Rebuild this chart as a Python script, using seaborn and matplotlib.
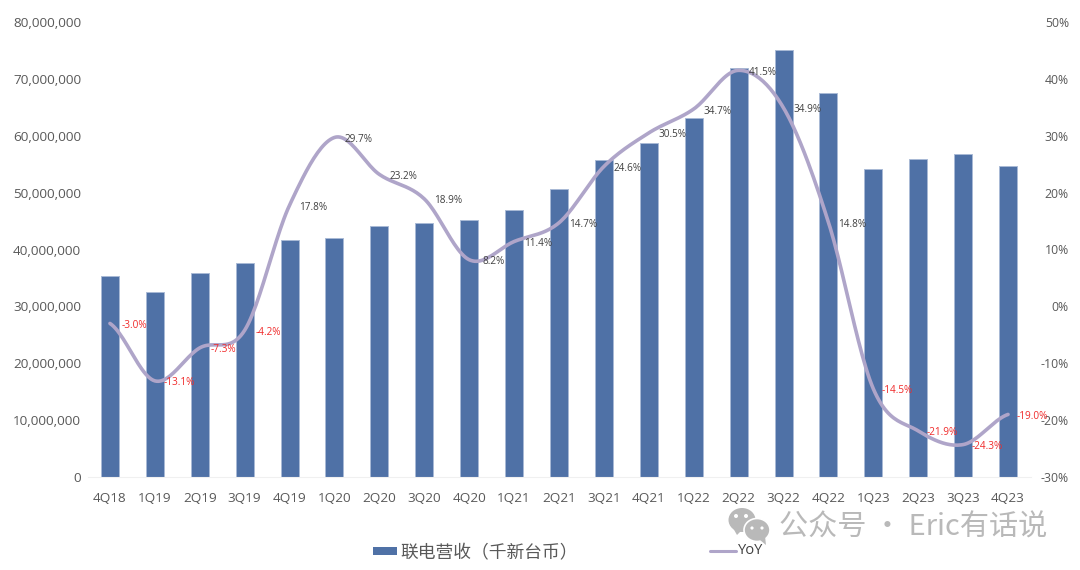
import numpy as np
import seaborn as sns
import matplotlib
matplotlib.use("Agg")
import matplotlib.pyplot as plt
from matplotlib.patches import Ellipse, Polygon, Rectangle
from matplotlib.lines import Line2D
from matplotlib.ticker import FuncFormatter

quarters = ["4Q18", "1Q19", "2Q19", "3Q19", "4Q19", "1Q20", "2Q20", "3Q20", "4Q20", "1Q21", "2Q21",
            "3Q21", "4Q21", "1Q22", "2Q22", "3Q22", "4Q22", "1Q23", "2Q23", "3Q23", "4Q23"]
revenue = [35.3e6, 32.5e6, 35.8e6, 37.6e6, 41.6e6, 42.0e6, 44.2e6, 44.6e6, 45.1e6, 46.9e6, 50.6e6,
           55.7e6, 58.8e6, 63.2e6, 71.9e6, 75.1e6, 67.6e6, 54.1e6, 56.0e6, 56.8e6, 54.7e6]
yoy = [-3.0, -13.1, -7.3, -4.2, 17.8, 29.7, 23.2, 18.9, 8.2, 11.4, 14.7,
       24.6, 30.5, 34.7, 41.5, 34.9, 14.8, -14.5, -21.9, -24.3, -19.0]

BAR = "#4F71A6"
BAR_EDGE = "#A9BAD6"
LINE = "#AFA5C9"
TEXT = "#595959"
LATIN = ["Open Sans", "Noto Sans CJK SC", "DejaVu Sans"]
CJK = ["Noto Sans CJK SC", "DejaVu Sans"]


def smooth_curve(values, steps=24):
    """Catmull-Rom style smoothing through every point, like a spreadsheet's smoothed line."""
    y = np.asarray(values, dtype=float)
    n = len(y)
    xs, ys = [], []
    for i in range(n - 1):
        p0 = y[max(i - 1, 0)]
        p1, p2 = y[i], y[i + 1]
        p3 = y[min(i + 2, n - 1)]
        t = np.linspace(0, 1, steps, endpoint=False)
        ys.append(0.5 * (2 * p1 + (p2 - p0) * t + (2 * p0 - 5 * p1 + 4 * p2 - p3) * t ** 2
                         + (3 * p1 - p0 - 3 * p2 + p3) * t ** 3))
        xs.append(i + t)
    return np.append(np.concatenate(xs), n - 1), np.append(np.concatenate(ys), y[-1])


sns.set_theme(style="white")
plt.rcParams["font.family"] = LATIN

fig = plt.figure(figsize=(10.8, 5.7), dpi=100)
ax = fig.add_axes([87.5 / 1080, 1 - 477 / 570, 943 / 1080, 455 / 570])

sns.barplot(x=quarters, y=revenue, color=BAR, width=0.4, saturation=1,
            edgecolor=BAR_EDGE, linewidth=0.7, ax=ax)
ax.set_xlim(-0.5, 20.5)
ax.set_ylim(0, 80e6)
ax.set_yticks(np.arange(0, 80e6 + 1, 10e6))
ax.yaxis.set_major_formatter(FuncFormatter(lambda v, _: f"{int(v):,}"))
ax.tick_params(axis="y", length=0, labelsize=9.7, labelcolor=TEXT, pad=4.6)
ax.tick_params(axis="x", length=0, labelsize=9.7, labelcolor=TEXT, pad=10.5)
for name in ("top", "left", "right"):
    ax.spines[name].set_visible(False)
ax.spines["bottom"].set_color("#F0F0F0")
ax.spines["bottom"].set_linewidth(0.8)

rate = ax.twinx()
curve_x, curve_y = smooth_curve(yoy)
sns.lineplot(x=curve_x, y=curve_y, color=LINE, linewidth=2.6, ax=rate, legend=False)
rate.set_xlim(-0.5, 20.5)
rate.set_ylim(-30, 50)
rate.set_yticks(np.arange(-30, 51, 10))
rate.yaxis.set_major_formatter(FuncFormatter(lambda v, _: f"{int(v)}%"))
rate.tick_params(axis="y", length=0, labelsize=8.8, labelcolor=TEXT, pad=27.7)
for label in rate.get_yticklabels():
    label.set_horizontalalignment("right")
rate.set_ylabel("")
rate.grid(False)
for spine in rate.spines.values():
    spine.set_visible(False)

# Value labels sit just to the right of each point
for i, v in enumerate(yoy):
    rate.annotate(f"{v:.1f}%", (i, v), xytext=(24, -2), textcoords="offset pixels",
                  ha="center", va="center", fontsize=7.2,
                  color="#F02A2A" if v < 0 else "#404040")

# Legend entries placed along the bottom edge
fig.add_artist(Rectangle((373 / 1080, 1 - 555 / 570), 24 / 1080, 8 / 570,
                         transform=fig.transFigure, color=BAR, lw=0))
fig.text(400 / 1080, 1 - 553.5 / 570, "联电营收（千新台币）", family=CJK, fontsize=12.8, color=TEXT, va="center")
fig.add_artist(Line2D([710 / 1080, 736 / 1080], [1 - 551 / 570] * 2, color=LINE, lw=2.2,
                      transform=fig.transFigure))
fig.text(738 / 1080, 1 - 551 / 570, "YoY", fontsize=10.5, color="#404040", va="center")

# Account mark and name in the lower right corner
GREY = "#B9B9B9"
canvas = fig.add_axes([0, 0, 1, 1], facecolor="none")
canvas.set_xlim(0, 1080)
canvas.set_ylim(570, 0)
canvas.axis("off")
canvas.add_patch(Ellipse((742, 520), 27, 24, color=GREY, lw=0))
canvas.add_patch(Polygon([(733, 528), (737, 535), (742, 530)], color=GREY, lw=0))
canvas.add_patch(Ellipse((757, 530), 26, 23, fc=GREY, ec="white", lw=1.2))
canvas.add_patch(Polygon([(760, 540), (766, 545), (765, 536)], color=GREY, lw=0))
for cx, cy, r in [(736, 516, 2), (746, 516, 2), (752, 528, 1.6), (762, 528, 1.6)]:
    canvas.add_patch(Ellipse((cx, cy), 2 * r, 2 * r, color="white", lw=0))
canvas.text(779, 528, "公众号 · Eric有话说", family=CJK, fontsize=21, color=GREY, va="center")

fig.savefig("out.png", dpi=100, facecolor="white")
